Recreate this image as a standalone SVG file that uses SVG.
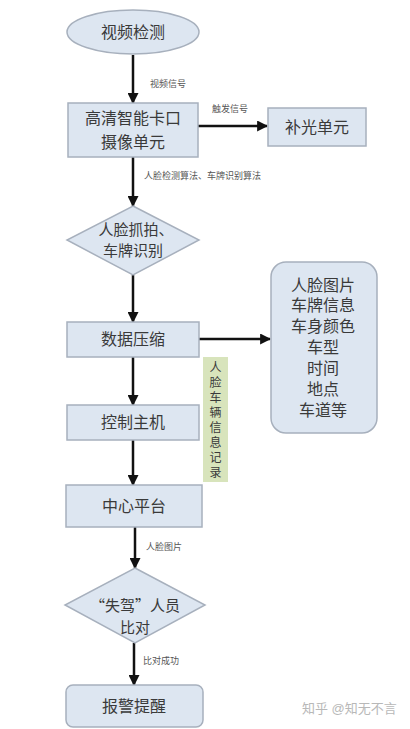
<svg xmlns="http://www.w3.org/2000/svg" width="410" height="729" viewBox="0 0 410 729">
<style>
.n{fill:#dde6f1;stroke:#a7b0bd;stroke-width:1.5}
.t{font-family:"Liberation Sans","Noto Sans CJK SC",sans-serif;fill:#3a3a3a;text-anchor:middle;dominant-baseline:central}
.big{font-size:16px}
.lbl{font-size:9px;fill:#555;text-anchor:start}
.c{stroke:#111;stroke-width:2.5;fill:none;marker-end:url(#ah)}
</style>
<defs>
<marker id="ah" viewBox="0 0 10 10" refX="9" refY="5" markerWidth="4.4" markerHeight="4.4" orient="auto" markerUnits="strokeWidth">
<path d="M0,0 L10,5 L0,10 z" fill="#111"/>
</marker>
</defs>
<rect width="410" height="729" fill="#fff"/>
<g id="connectors">
<line class="c" x1="133" y1="55" x2="133" y2="103"/>
<line class="c" x1="198" y1="126" x2="267" y2="126"/>
<line class="c" x1="133" y1="157" x2="133" y2="206"/>
<line class="c" x1="133" y1="275" x2="133" y2="322"/>
<line class="c" x1="199" y1="339" x2="270" y2="339"/>
<line class="c" x1="133" y1="357" x2="133" y2="405"/>
<line class="c" x1="133" y1="440" x2="133" y2="485"/>
<line class="c" x1="135" y1="527" x2="135" y2="568"/>
<line class="c" x1="134" y1="643" x2="134" y2="685"/>
<text class="t lbl" x="150" y="84">视频信号</text>
<text class="t lbl" x="212" y="109">触发信号</text>
<text class="t lbl" x="144" y="176">人脸检测算法、车牌识别算法</text>
<text class="t lbl" x="146" y="547">人脸图片</text>
<text class="t lbl" x="143" y="661">比对成功</text>
</g>
<g id="n1">
<ellipse class="n" cx="133" cy="32" rx="66" ry="22"/>
<text class="t big" x="133" y="32">视频检测</text>
</g>
<g id="n2">
<rect class="n" x="68" y="103" width="130" height="54"/>
<text class="t big"><tspan x="133" y="118">高清智能卡口</tspan><tspan x="133" y="142">摄像单元</tspan></text>
</g>
<g id="n3">
<rect class="n" x="268" y="108" width="98" height="38"/>
<text class="t big" x="317" y="127">补光单元</text>
</g>
<g id="n4">
<polygon class="n" points="133,206 199,240 133,275 67,240"/>
<text class="t" font-size="15"><tspan x="136" y="229">人脸抓拍、</tspan><tspan x="133" y="250">车牌识别</tspan></text>
</g>
<g id="n5">
<rect class="n" x="67" y="322" width="132" height="35"/>
<text class="t big" x="133" y="339">数据压缩</text>
</g>
<g id="n6">
<rect class="n" x="271" y="262" width="106" height="171" rx="15"/>
<text class="t big"><tspan x="323" y="285">人脸图片</tspan><tspan x="323" y="305">车牌信息</tspan><tspan x="323" y="326">车身颜色</tspan><tspan x="323" y="347">车型</tspan><tspan x="323" y="368">时间</tspan><tspan x="323" y="389">地点</tspan><tspan x="323" y="410">车道等</tspan></text>
</g>
<g id="n7">
<rect class="n" x="67" y="405" width="132" height="35"/>
<text class="t big" x="133" y="422">控制主机</text>
</g>
<g id="n8">
<rect x="203" y="357" width="25" height="125" fill="#d8e4bc"/>
<text class="t" font-size="12"><tspan x="215.5" y="368">人</tspan><tspan x="215.5" y="383">脸</tspan><tspan x="215.5" y="398">车</tspan><tspan x="215.5" y="413">辆</tspan><tspan x="215.5" y="428">信</tspan><tspan x="215.5" y="443">息</tspan><tspan x="215.5" y="458">记</tspan><tspan x="215.5" y="473">录</tspan></text>
</g>
<g id="n9">
<rect class="n" x="66" y="485" width="136" height="42"/>
<text class="t big" x="134" y="506">中心平台</text>
</g>
<g id="n10">
<polygon class="n" points="135,568 205,605 135,643 65,605"/>
<text class="t" font-size="15"><tspan x="135" y="604" font-family="Noto Sans CJK SC,sans-serif">“失驾”人员</tspan><tspan x="135" y="627">比对</tspan></text>
</g>
<g id="n11">
<rect class="n" x="66" y="685" width="137" height="42" rx="7"/>
<text class="t big" x="134" y="706">报警提醒</text>
</g>
<text x="302" y="708" font-family="Liberation Sans,Noto Sans CJK SC,sans-serif" font-size="13" fill="#b8b8b8" dominant-baseline="central">知乎 @知无不言</text>
</svg>
